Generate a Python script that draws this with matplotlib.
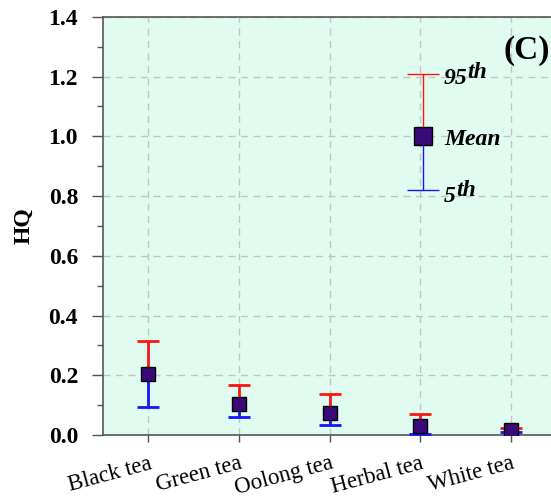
import matplotlib.pyplot as plt
from matplotlib.ticker import MultipleLocator

plt.rcParams['font.family'] = ['Liberation Serif', 'DejaVu Serif']

teas = ['Black tea', 'Green tea', 'Oolong tea', 'Herbal tea', 'White tea']
hq_mean = [0.203, 0.105, 0.075, 0.030, 0.016]
hq_p95 = [0.316, 0.167, 0.136, 0.070, 0.023]
hq_p5 = [0.093, 0.060, 0.035, 0.004, 0.011]

# key drawn inside the plot: 95th / mean / 5th
key_x = 3.03
key_vals = [1.21, 1.00, 0.82]

fig = plt.figure(figsize=(5.51, 4.96), dpi=100)
ax = fig.add_axes([0.187, 0.123, 0.813, 0.843])
ax.set_facecolor('#e0fcf0')

red, blue, face = '#ff1414', '#1414ff', '#3a0a78'
x = list(range(len(teas)))
ax.vlines(x, hq_mean, hq_p95, color=red, lw=2, zorder=3)
ax.vlines(x, hq_p5, hq_mean, color=blue, lw=2, zorder=3)
ax.plot(x, hq_p95, ls='none', marker='_', ms=16, mew=2, color=red, zorder=3)
ax.plot(x, hq_p5, ls='none', marker='_', ms=16, mew=2, color=blue, zorder=3)
ax.plot(x, hq_mean, ls='none', marker='s', ms=10, mfc=face, mec='black', mew=1, zorder=4)

# key
ax.vlines(key_x, key_vals[1], key_vals[0], color=red, lw=1, zorder=3)
ax.vlines(key_x, key_vals[2], key_vals[1], color=blue, lw=1, zorder=3)
ax.plot([key_x], [key_vals[0]], marker='_', ms=23, mew=1, color=red, zorder=3)
ax.plot([key_x], [key_vals[2]], marker='_', ms=23, mew=1, color=blue, zorder=3)
ax.plot([key_x], [key_vals[1]], marker='s', ms=13, mfc=face, mec='black', mew=1, zorder=4)
tkw = dict(fontsize=17, fontweight='bold', fontstyle='italic', va='center', ha='left')
tx = key_x + 0.23
ax.text(tx, key_vals[0] - 0.015, '95', **tkw)
ax.annotate('th', (tx, key_vals[0] - 0.015), xytext=(17, 4), textcoords='offset points',
            **tkw)
ax.text(tx, key_vals[1] - 0.01, 'Mean', **tkw)
ax.text(tx, key_vals[2] - 0.02, '5', **tkw)
ax.annotate('th', (tx, key_vals[2] - 0.02), xytext=(8.5, 4), textcoords='offset points',
            **tkw)
ax.text(0.997, 0.92, '(C)', transform=ax.transAxes, fontsize=24, fontweight='bold',
        ha='right', va='center')

ax.set_xlim(-0.5, 4.44)
ax.set_ylim(0, 1.4)
ax.set_xticks(x)
ax.set_xticklabels(teas, rotation=15, fontsize=16.5, ha='right', rotation_mode='anchor')
ax.yaxis.set_major_locator(MultipleLocator(0.2))
ax.yaxis.set_minor_locator(MultipleLocator(0.1))
ax.set_yticklabels([f'{v:.1f}' for v in ax.get_yticks()], fontsize=17, fontweight='bold')
ax.tick_params(axis='y', which='major', length=8, width=1, color='#555555',
               direction='out', pad=10)
ax.tick_params(axis='y', which='minor', length=4, width=1, color='#555555', direction='out')
ax.tick_params(axis='x', length=5, width=1, color='#555555', direction='out', pad=8)
ax.set_ylabel('HQ', fontsize=17, fontweight='bold', labelpad=10)

ax.grid(True, ls=(0, (5, 4)), color='#c4c4c4', lw=1)
ax.set_axisbelow(True)
for side in ['left', 'top', 'bottom']:
    ax.spines[side].set_color('#555555')
    ax.spines[side].set_linewidth(1.2)
ax.spines['right'].set_visible(False)

fig.savefig('out.png', dpi=100)
